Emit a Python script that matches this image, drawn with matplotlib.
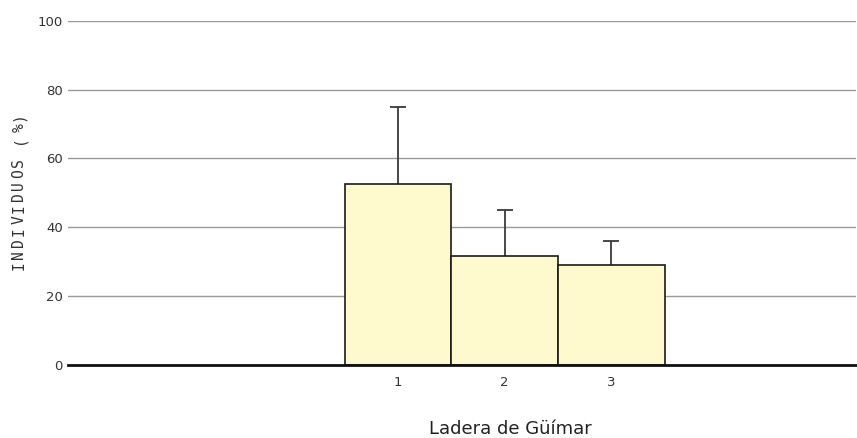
import matplotlib
matplotlib.use("Agg")
import matplotlib.pyplot as plt

categories = ["1", "2", "3"]
positions = [1, 2, 3]
means = [52.6, 31.8, 29.0]
err_upper = [22.2, 13.3, 7.0]
yticks = [0, 20, 40, 60, 80, 100]
xlabel = "Ladera de Güímar"
ylabel = "INDIVIDUOS (%)"

W, H = 857, 438
fig = plt.figure(figsize=(W / 100, H / 100), dpi=100)
ax = fig.add_axes([68.3 / W, 73 / H, (856 - 68.3) / W, (417.3 - 73) / H])

ax.set_xlim(-2.093, 5.296)
ax.set_ylim(0, 100)

for y in yticks[1:]:
    ax.axhline(y, color="#9a9a9a", lw=1.0, zorder=0)

ax.bar(positions, means, width=1.0, color="#FFFACD", edgecolor="#1a1a1a",
       linewidth=1.2, zorder=2)
tops = [m + e for m, e in zip(means, err_upper)]
ax.vlines(positions, means, tops, color="#3a3a3a", lw=1.3, zorder=1)
ax.plot(positions, tops, ls="none", marker="_", markersize=11.5,
        markeredgewidth=1.3, color="#3a3a3a", zorder=1)

for s in ["top", "right", "left"]:
    ax.spines[s].set_visible(False)
ax.spines["bottom"].set_color("#111111")
ax.spines["bottom"].set_linewidth(2.0)
ax.spines["bottom"].set_zorder(3)

ax.set_yticks(yticks)
ax.set_yticklabels([str(v) for v in yticks])
ax.set_xticks(positions)
ax.set_xticklabels(categories)
ax.tick_params(axis="y", length=0, pad=4, labelsize=9.5, labelcolor="#333333")
ax.tick_params(axis="x", length=0, pad=8, labelsize=9.5, labelcolor="#333333")

fig.text(510.5 / W, 1 - 428.5 / H, xlabel, ha="center", va="center",
         fontsize=13, color="#222222", family="DejaVu Sans")

# letter-spaced vertical y label
for i, ch in enumerate(ylabel):
    ypix = 266 - i * 11.5
    fig.text(19 / W, 1 - ypix / H, ch, rotation=90, ha="center", va="center",
             fontsize=10.5, color="#333333", family="DejaVu Sans Mono")

fig.savefig("out.png", dpi=100)
